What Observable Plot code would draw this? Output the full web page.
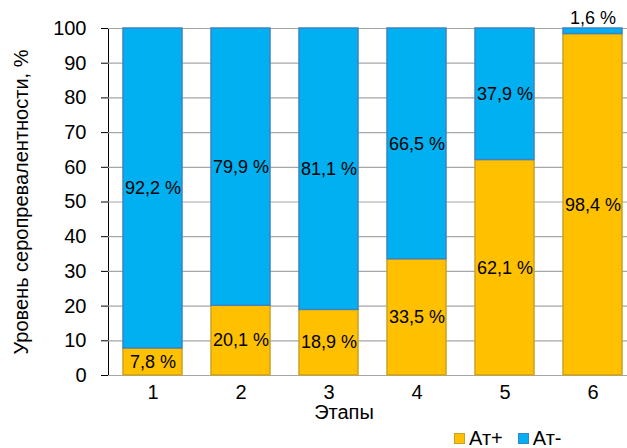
<!DOCTYPE html>
<html>
<head>
<meta charset="utf-8">
<script src="https://cdn.jsdelivr.net/npm/d3@7"></script>
<script src="https://cdn.jsdelivr.net/npm/@observablehq/plot@0.6"></script>
<style>
  body { margin: 0; background: #fff; font-family: "Liberation Sans", Arial, sans-serif; }
  #wrap { position: relative; width: 627px; height: 448px; overflow: hidden; }
  #legend { position: absolute; left: 454px; top: 429px; display: flex; align-items: center; font-size: 20px; line-height: 18px; color: #000; }
  .item { display: flex; align-items: center; margin-right: 15px; }
  .sw { width: 11px; height: 11px; margin-right: 4px; box-sizing: border-box; }
</style>
</head>
<body>
<div id="wrap"><div id="chart"></div><div id="legend"></div></div>
<script>
const stages = ["1", "2", "3", "4", "5", "6"];
const positive = [7.8, 20.1, 18.9, 33.5, 62.1, 98.4];
const negative = [92.2, 79.9, 81.1, 66.5, 37.9, 1.6];
const series = ["Ат+", "Ат-"];
const fills = ["#FFC000", "#00B0F0"];
const strokes = ["#C9A227", "#3C83C4"];
const yTicks = [0, 10, 20, 30, 40, 50, 60, 70, 80, 90, 100];
const yLabel = "Уровень серопревалентности, %";
const xLabel = "Этапы";

const data = stages.flatMap((s, i) => [
  {stage: s, group: series[0], value: positive[i]},
  {stage: s, group: series[1], value: negative[i]}
]);
const fillOf = d => fills[series.indexOf(d.group)];
const strokeOf = d => strokes[series.indexOf(d.group)];
const fmt = v => v.toFixed(1).replace(".", ",") + " %";

const chart = Plot.plot({
  width: 627,
  height: 428,
  marginLeft: 108,
  marginRight: 0,
  marginTop: 28,
  marginBottom: 53,
  style: {fontFamily: "Liberation Sans, Arial, sans-serif", fontSize: "20px", color: "#000", background: "transparent"},
  x: {domain: stages, range: [107.5, 636.5], paddingInner: 0.33, paddingOuter: 0.165, tickSize: 0, tickPadding: 9, label: null},
  y: {domain: [0, 100], ticks: yTicks, tickSize: 7, tickPadding: 15, line: true, label: null},
  marks: [
    Plot.ruleY(yTicks, {stroke: "#A6A6A6", strokeWidth: 1.2}),
    Plot.barY(data, {x: "stage", y: "value", z: "group", fill: fillOf, stroke: strokeOf, strokeWidth: 1.5, inset: 0}),
    Plot.text(data, Plot.stackY({x: "stage", y: "value", z: "group", text: d => d.value >= 5 ? fmt(d.value) : "", fill: "#000", fontSize: 18})),
    Plot.text(data, Plot.stackY2({x: "stage", y: "value", z: "group", text: d => d.value < 5 ? fmt(d.value) : "", fill: "#000", fontSize: 18, dy: -10})),
    Plot.text([xLabel], {frameAnchor: "bottom", lineAnchor: "middle", dx: -24, dy: 37, fill: "#000", fontSize: 20}),
    Plot.text([yLabel], {frameAnchor: "left", textAnchor: "middle", rotate: -90, dx: -87, fill: "#000", fontSize: 20})
  ]
});
document.getElementById("chart").appendChild(chart);

const legend = document.getElementById("legend");
series.forEach((s, i) => {
  const it = document.createElement("div");
  it.className = "item";
  it.innerHTML = `<div class="sw" style="background:${fills[i]};border:1px solid ${strokes[i]}"></div><span>${s}</span>`;
  legend.appendChild(it);
});
</script>
</body>
</html>
